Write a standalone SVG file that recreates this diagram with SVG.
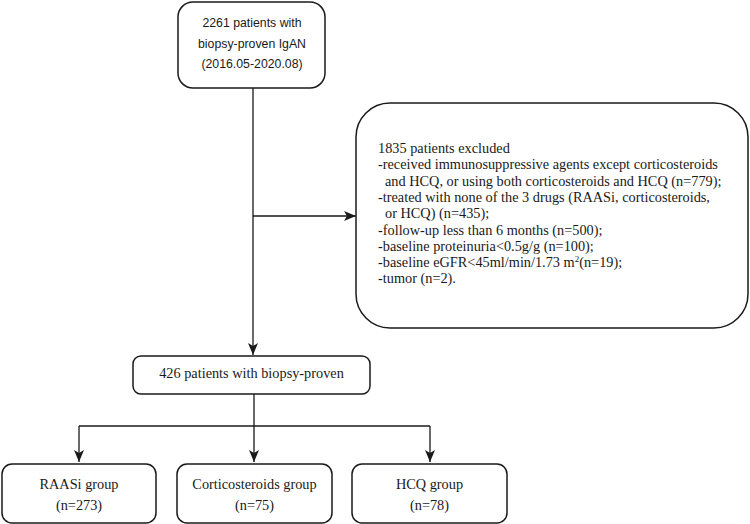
<svg xmlns="http://www.w3.org/2000/svg" width="750" height="524" viewBox="0 0 750 524">
<style>
.box{fill:#fff;stroke:#1a1a1a;stroke-width:1.5}
.ln{fill:none;stroke:#1a1a1a;stroke-width:1.3}
.sans{font-family:"Liberation Sans",Arial,sans-serif;font-size:12.3px;fill:#1a1a1a}
.serif{font-family:"Liberation Serif","Times New Roman",serif;font-size:14.3px;fill:#1a1a1a}
</style>
<defs>
<marker id="ah" viewBox="0 0 12 10" refX="12" refY="5" markerWidth="12" markerHeight="10" markerUnits="userSpaceOnUse" orient="auto">
<path d="M0,0 L12,5 L0,10 L3,5 Z" fill="#1a1a1a"/>
</marker>
</defs>
<rect width="750" height="524" fill="#fff"/>
<g id="connectors">
<path class="ln" d="M253,88 V355" marker-end="url(#ah)"/>
<path class="ln" d="M253,216 H356" marker-end="url(#ah)"/>
<path class="ln" d="M254,394 V462" marker-end="url(#ah)"/>
<path class="ln" d="M79,426 H430"/>
<path class="ln" d="M79,426 V462" marker-end="url(#ah)"/>
<path class="ln" d="M430,426 V462" marker-end="url(#ah)"/>
</g>
<g id="node-total">
<rect class="box" x="178" y="2" width="147" height="86" rx="15"/>
<text class="sans" text-anchor="middle" x="252" y="27">2261 patients with</text>
<text class="sans" text-anchor="middle" x="252" y="48">biopsy-proven IgAN</text>
<text class="sans" text-anchor="middle" x="252" y="68">(2016.05-2020.08)</text>
</g>
<g id="node-excluded">
<rect class="box" x="356" y="103" width="392" height="225" rx="34"/>
<text class="serif" x="378" y="153">1835 patients excluded</text>
<text class="serif" x="378" y="169.3">-received immunosuppressive agents except corticosteroids</text>
<text class="serif" x="385" y="185.6">and HCQ, or using both corticosteroids and HCQ (n=779);</text>
<text class="serif" x="378" y="201.9">-treated with none of the 3 drugs (RAASi, corticosteroids,</text>
<text class="serif" x="385" y="218.2">or HCQ) (n=435);</text>
<text class="serif" x="378" y="234.5">-follow-up less than 6 months (n=500);</text>
<text class="serif" x="378" y="250.8">-baseline proteinuria&lt;0.5g/g (n=100);</text>
<text class="serif" x="378" y="267.1">-baseline eGFR&lt;45ml/min/1.73 m<tspan font-size="9" dy="-5">2</tspan><tspan dy="5">(n=19);</tspan></text>
<text class="serif" x="378" y="283.4">-tumor (n=2).</text>
</g>
<g id="node-included">
<rect class="box" x="133" y="356" width="237" height="38" rx="8"/>
<text class="serif" text-anchor="middle" x="251.5" y="378">426 patients with biopsy-proven</text>
</g>
<g id="node-raasi">
<rect class="box" x="2" y="464" width="154" height="59" rx="10"/>
<text class="serif" text-anchor="middle" x="79" y="489">RAASi group</text>
<text class="serif" text-anchor="middle" x="79" y="510">(n=273)</text>
</g>
<g id="node-cortico">
<rect class="box" x="177" y="464" width="155" height="59" rx="10"/>
<text class="serif" text-anchor="middle" x="254.5" y="489">Corticosteroids group</text>
<text class="serif" text-anchor="middle" x="254.5" y="510">(n=75)</text>
</g>
<g id="node-hcq">
<rect class="box" x="352" y="464" width="155" height="59" rx="10"/>
<text class="serif" text-anchor="middle" x="429.5" y="489">HCQ group</text>
<text class="serif" text-anchor="middle" x="429.5" y="510">(n=78)</text>
</g>
</svg>
